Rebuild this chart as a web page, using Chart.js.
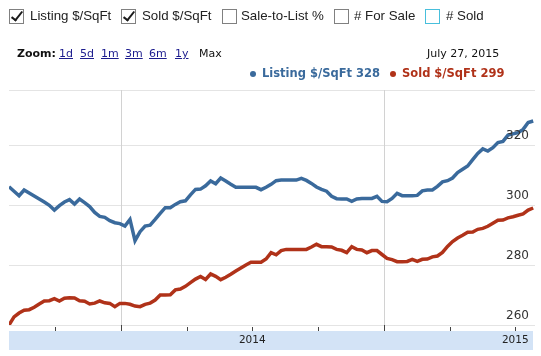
<!DOCTYPE html>
<html><head><meta charset="utf-8">
<script src="https://cdn.jsdelivr.net/npm/chart.js@4.4.1/dist/chart.umd.min.js"></script>
<style>
html,body{margin:0;padding:0;background:#fff;width:541px;height:356px;overflow:hidden;}
#wrap{position:absolute;left:0;top:0;width:541px;height:356px;}
canvas{position:absolute;left:0;top:0;}
.t{position:absolute;white-space:nowrap;z-index:2;}
.cb{position:absolute;top:9px;width:13px;height:13px;border:1px solid #808080;background:#fff;z-index:2;box-sizing:content-box;}
.cb.on::after{content:'';position:absolute;left:4px;top:-1px;width:4px;height:10px;border:solid #1a1a1a;border-width:0 2.5px 2.5px 0;transform:rotate(38deg);}
.lbl{font-family:"Liberation Sans",Arial,sans-serif;font-size:13.3px;line-height:15px;color:#222;top:8px;}
.zm{font-family:"DejaVu Sans",Verdana,sans-serif;font-size:11px;line-height:13px;top:47px;color:#111;}
.zm a{color:#1c1c8e;text-decoration:underline;}
.lg{font-family:"DejaVu Sans",Verdana,sans-serif;font-weight:bold;font-size:11.5px;line-height:14px;top:66px;}
.dot{position:absolute;width:6px;height:6px;border-radius:3px;top:71px;z-index:2;}
</style></head>
<body>
<div id="wrap">
  <canvas id="c" width="541" height="356"></canvas>
  <div class="cb on" style="left:9px"></div><div class="t lbl" style="left:30px">Listing $/SqFt</div>
  <div class="cb on" style="left:121px"></div><div class="t lbl" style="left:142px">Sold $/SqFt</div>
  <div class="cb" style="left:222px"></div><div class="t lbl" style="left:241px">Sale-to-List %</div>
  <div class="cb" style="left:334px"></div><div class="t lbl" style="left:354px"># For Sale</div>
  <div class="cb" style="left:425px;border:1.5px solid #48bfdc;width:13px;height:13px"></div><div class="t lbl" style="left:446px"># Sold</div>

  <div class="t zm" style="left:17px;font-weight:bold">Zoom:</div>
  <div class="t zm" style="left:59px"><a>1d</a></div>
  <div class="t zm" style="left:80px"><a>5d</a></div>
  <div class="t zm" style="left:101px"><a>1m</a></div>
  <div class="t zm" style="left:125px"><a>3m</a></div>
  <div class="t zm" style="left:149px"><a>6m</a></div>
  <div class="t zm" style="left:175px"><a>1y</a></div>
  <div class="t zm" style="left:199px">Max</div>
  <div class="t zm" style="left:427px">July 27, 2015</div>

  <div class="dot" style="left:250px;background:#3a6a9c"></div>
  <div class="t lg" style="left:262px;color:#3a6a9c">Listing $/SqFt 328</div>
  <div class="dot" style="left:390px;background:#b03219"></div>
  <div class="t lg" style="left:402px;color:#b03219">Sold $/SqFt 299</div>
</div>
<script>
// Weekly series, first week ≈ late January 2013 (decimal year)
const startYear = 2013.075;
const weekStep = 7 / 365.25;
const listing = [306.1,304.6,303.1,305.0,304.0,303.0,302.0,301.0,299.9,298.3,
  299.8,301.0,301.8,300.3,302.0,300.8,299.5,297.5,296.2,295.9,
  294.8,294.1,293.8,293.0,295.2,288.1,291.1,293.0,293.3,295.2,
  297.2,299.1,299.1,300.2,301.1,301.4,303.4,305.2,305.3,306.4,
  308.0,307.1,309.0,308.0,306.9,305.9,305.9,305.9,305.9,305.9,
  305.1,305.9,306.9,308.1,308.3,308.3,308.3,308.3,308.9,308.2,
  307.2,306.0,305.2,304.6,302.9,302.1,302.0,302.0,301.2,302.0,
  302.2,302.2,302.2,302.9,301.2,301.1,302.2,303.9,303.1,303.1,
  303.1,303.2,304.7,305.0,305.0,306.2,307.7,308.1,309.0,310.8,
  311.9,313.0,315.1,317.2,318.7,318.0,319.1,320.8,321.2,323.3,
  323.7,324.1,325.2,327.5,328.0];
const sold = [260.0,262.7,264.0,264.9,265.1,265.9,267.0,268.0,268.1,268.8,
  268.0,268.9,269.1,269.0,268.1,267.9,267.0,267.3,268.0,267.4,
  267.2,266.1,267.2,267.2,266.9,266.3,266.1,266.9,267.3,268.3,
  270.0,270.0,270.1,271.7,272.0,272.9,274.1,275.3,276.2,275.2,
  277.0,276.2,275.1,275.9,276.9,278.0,279.0,280.0,280.9,280.9,
  280.9,282.0,284.1,283.4,284.8,285.2,285.2,285.2,285.2,285.2,
  286.0,286.9,286.1,286.1,286.0,285.2,284.9,284.1,286.1,285.2,
  285.0,284.1,284.8,284.8,283.5,282.2,281.8,281.1,281.1,281.2,
  281.9,281.2,281.9,282.0,282.7,283.0,284.2,286.2,287.8,289.0,
  289.9,290.9,291.0,291.9,292.2,292.9,293.9,294.9,295.0,295.7,
  296.1,296.6,297.0,298.3,299.0];
const yTicks = [260, 280, 300, 320];
const yTickLabels = ['260', '280', '300', '320'];
const xTicks = [2013.25, 2013.5, 2013.75, 2014.0, 2014.25, 2014.5, 2014.75, 2015.0];
const xTickLabels = ['', '', '', '2014', '', '', '', '2015'];
const xMajor = [false, true, false, false, false, true, false, false];

const weeks = listing.map((_, i) => startYear + i * weekStep);
const toPts = arr => arr.map((v, i) => ({x: weeks[i], y: v}));

const BLUE = '#3a6a9c', RED = '#b03219';

const deco = {
  id: 'deco',
  beforeDatasetsDraw(chart) {
    const {ctx, chartArea: a, scales: {x, y}} = chart;
    ctx.save();
    ctx.lineWidth = 1;
    ctx.strokeStyle = '#e4e4e4';
    const hl = [...yTicks, y.max];
    hl.forEach(v => {
      const py = Math.round(y.getPixelForValue(v)) + 0.5;
      ctx.beginPath(); ctx.moveTo(a.left, py); ctx.lineTo(a.right, py); ctx.stroke();
    });
    ctx.strokeStyle = '#d2d2d2';
    xTicks.forEach((t, i) => {
      if (!xMajor[i]) return;
      const px = Math.round(x.getPixelForValue(t)) + 0.5;
      ctx.beginPath(); ctx.moveTo(px, a.top); ctx.lineTo(px, a.bottom); ctx.stroke();
    });
    ctx.restore();
  },
  afterDatasetsDraw(chart) {
    const {ctx, chartArea: a, scales: {x, y}} = chart;
    ctx.save();
    ctx.font = '12px "DejaVu Sans", Verdana, sans-serif';
    ctx.fillStyle = '#333';
    ctx.textAlign = 'right';
    ctx.textBaseline = 'alphabetic';
    yTicks.forEach((v, i) => {
      ctx.fillText(yTickLabels[i], a.right - 6, y.getPixelForValue(v) - 6.5);
    });
    ctx.fillStyle = '#d3e3f6';
    ctx.fillRect(a.left, a.bottom + 6, a.right - a.left - 2, 19);
    ctx.strokeStyle = '#444';
    ctx.lineWidth = 1;
    xTicks.forEach((t, i) => {
      const px = Math.round(x.getPixelForValue(t)) + 0.5;
      ctx.beginPath();
      ctx.moveTo(px, a.bottom + (xMajor[i] ? 0 : 2));
      ctx.lineTo(px, a.bottom + 6);
      ctx.stroke();
    });
    ctx.font = '10.5px "DejaVu Sans", Verdana, sans-serif';
    ctx.fillStyle = '#222';
    ctx.textAlign = 'center';
    ctx.textBaseline = 'middle';
    xTicks.forEach((t, i) => {
      if (!xTickLabels[i]) return;
      ctx.fillText(xTickLabels[i], x.getPixelForValue(t), a.bottom + 15.5);
    });
    ctx.restore();
  }
};

new Chart(document.getElementById('c'), {
  type: 'line',
  data: {
    datasets: [
      {label: 'Listing $/SqFt', data: toPts(listing), borderColor: BLUE, borderWidth: 3.5, pointRadius: 0, tension: 0, fill: false},
      {label: 'Sold $/SqFt', data: toPts(sold), borderColor: RED, borderWidth: 3.5, pointRadius: 0, tension: 0, fill: false}
    ]
  },
  options: {
    responsive: false,
    animation: false,
    devicePixelRatio: 1,
    layout: {padding: {left: 9, right: 6, top: 90, bottom: 31}},
    plugins: {legend: {display: false}, tooltip: {enabled: false}},
    scales: {
      x: {type: 'linear', display: false, min: startYear, max: startYear + 2},
      y: {type: 'linear', display: false, min: 260, max: 260 + 235 / 3}
    }
  },
  plugins: [deco]
});
</script>
</body></html>
